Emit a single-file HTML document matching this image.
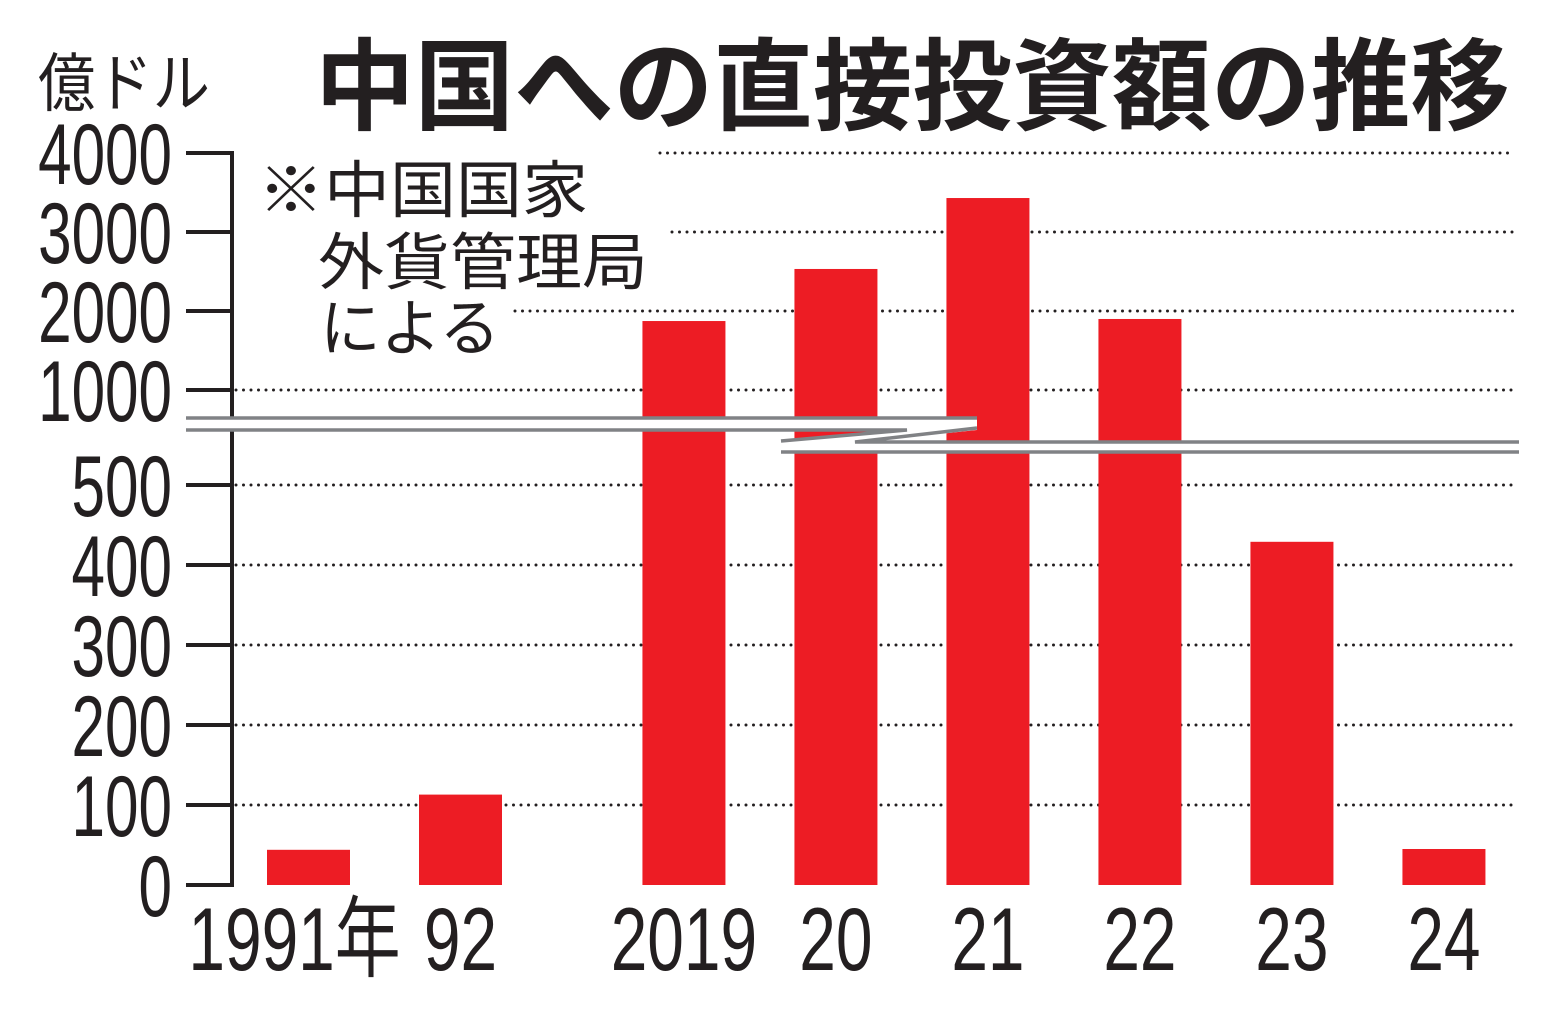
<!DOCTYPE html>
<html><head><meta charset="utf-8">
<style>
html,body{margin:0;padding:0;background:#fff;}
svg{display:block;}
text{font-family:"Liberation Sans","Noto Sans CJK JP",sans-serif;fill:#231f20;}
</style></head>
<body>
<svg id="chart" width="1559" height="1016" viewBox="0 0 1559 1016" xmlns="http://www.w3.org/2000/svg">
<rect width="1559" height="1016" fill="#fff"/>
<text x="315" y="122" font-size="100" font-weight="bold" font-family="Noto Sans CJK JP, sans-serif" textLength="1195" lengthAdjust="spacingAndGlyphs">中国への直接投資額の推移</text>
<text x="38" y="106" font-size="64" textLength="172" lengthAdjust="spacingAndGlyphs">億ドル</text>
<g font-size="62">
<text x="258" y="212" textLength="330" lengthAdjust="spacingAndGlyphs">※中国国家</text>
<text x="318" y="284" textLength="330" lengthAdjust="spacingAndGlyphs">外貨管理局</text>
<text x="320" y="350" textLength="180" lengthAdjust="spacingAndGlyphs">による</text>
</g>
<g id="grid"></g>
<g id="bars"></g>
<g id="axis"></g>
<g id="brk"></g>
<g id="xlabels"></g>
</svg>
<script>
const categories = ["1991年","92","2019","20","21","22","23","24"];
const values = [44, 113, 1873, 2532, 3430, 1899, 429, 45];
const lowTicks = [0,100,200,300,400,500];
const highTicks = [1000,2000,3000,4000];
const tickLabels = ["0","100","200","300","400","500","1000","2000","3000","4000"];

const NS="http://www.w3.org/2000/svg";
function mk(tag, attrs, parent){const e=document.createElementNS(NS,tag);for(const k in attrs)e.setAttribute(k,attrs[k]);parent.appendChild(e);return e;}
// broken axis
function yScale(v){ if(v<=500) return 885 - v*0.8; return 390 - (v-1000)*0.079; }
const barX0=267, barW=83;
const barXs=[0,1,2.47,3.47,4.47,5.47,6.47,7.47];
function xPos(i){ return barX0 + Math.round((i<2? i : [2,2,2.47,3.47,4.47,5.47,6.47,7.47][i]) * 152) - (i>=2?0:0); }
function bx(i){ const slot = i<2 ? i : i+0.47; return barX0 + slot*152; }

const grid=document.getElementById('grid');
const gridStarts={4000:660,3000:672,2000:515};
const allTicks=lowTicks.concat(highTicks);
allTicks.forEach((t,k)=>{
  const y=yScale(t);
  if(t>0){
    const l=mk('line',{x1:(gridStarts[t]||236),x2:1515,y1:y,y2:y,stroke:'#231f20','stroke-width':3,'stroke-dasharray':'0 7.5','stroke-linecap':'round'},grid);
    
    
  }
});
const bars=document.getElementById('bars');
values.forEach((v,i)=>{
  const y=yScale(v);
  const r=mk('rect',{x:bx(i),y:y,width:barW,height:885-y,fill:'#ed1c24'},bars);
  
  
});
const axis=document.getElementById('axis');
const al=mk('line',{x1:232,x2:232,y1:151,y2:887,stroke:'#231f20','stroke-width':4},axis);


allTicks.forEach((t,k)=>{
  const y=yScale(t);
  const tk=mk('line',{x1:186,x2:234,y1:y,y2:y,stroke:'#231f20','stroke-width':4},axis);
  
  
  const tx=mk('text',{x:172,y:y+31,'font-size':86,'text-anchor':'end',transform:'translate(172 0) scale(0.7 1) translate(-172 0)'},axis);
  tx.textContent=tickLabels[k];
  
  
});
// break marks
const brk=document.getElementById('brk');
const bw=mk('polygon',{points:'186,418 977,418 977,430 855,443 1519,443 1519,452 781,452 781,441 907,430 186,430',fill:'#fff'},brk);


const g='#808285';
[['186,418 977,418'],['186,430 907,430 781,441'],['977,428 855,442 1519,442'],['781,452 1519,452']].forEach(p=>{
  const pl=mk('polyline',{points:p[0],fill:'none',stroke:g,'stroke-width':3.5},brk);
  
  
});
// x labels
const xl=document.getElementById('xlabels');
categories.forEach((c,i)=>{
  const cx=bx(i)+barW/2 + (i===0?-14:0);
  const t=mk('text',{x:cx,y:970,'font-size':89,'text-anchor':'middle',transform:`translate(${cx} 0) scale(0.74 1) translate(${-cx} 0)`},xl);
  t.textContent=c;
  
  
});
</script>
</body></html>
